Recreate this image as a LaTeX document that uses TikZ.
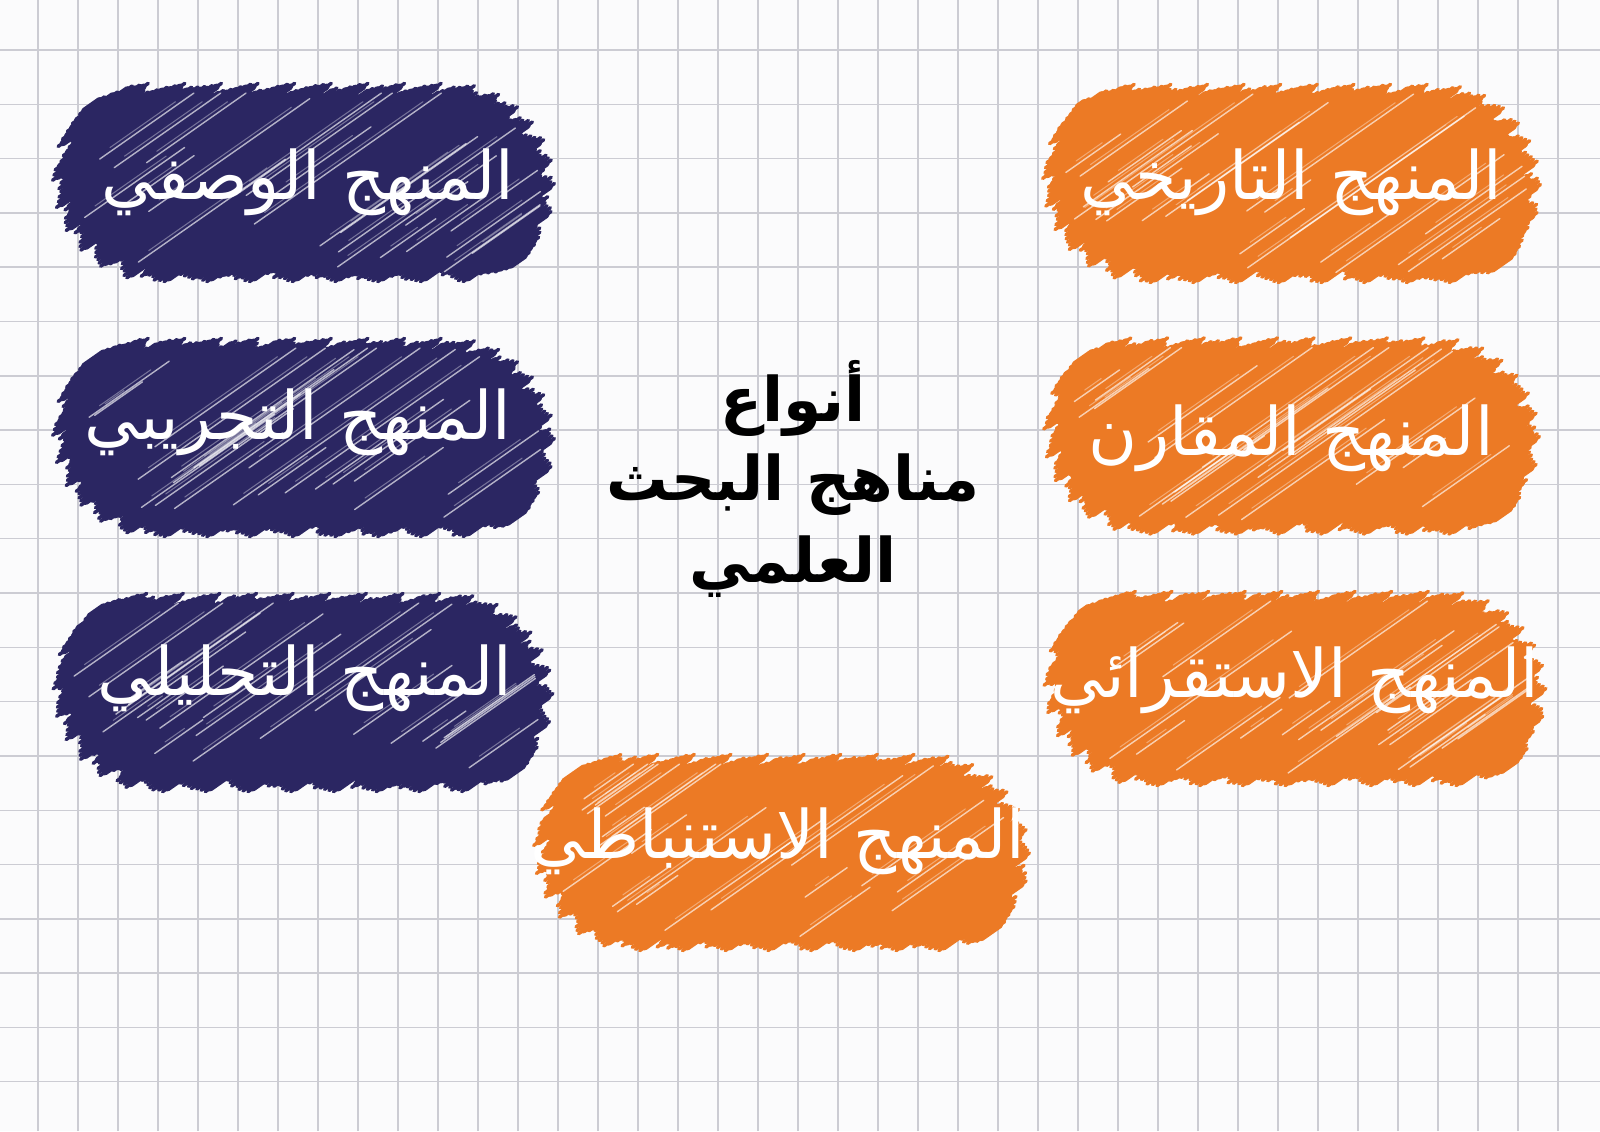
\documentclass[tikz,border=0pt]{standalone}
\usepackage{fontspec}
\newfontfamily\arabicfont[Script=Arabic]{DejaVu Sans}
\TeXXeTstate=1
\definecolor{navy}{RGB}{43,38,98}
\definecolor{orng}{RGB}{236,122,37}
\definecolor{gridc}{RGB}{204,204,211}
\definecolor{paper}{RGB}{251,251,252}
\tikzset{
  gridline/.style={gridc, line width=0.4pt},
  lbl/.style={text=white, font=\arabicfont\fontsize{19}{22}\selectfont, inner sep=0pt, anchor=base},
  ttl/.style={text=black, font=\arabicfont\bfseries\fontsize{17.5}{20}\selectfont, inner sep=0pt, anchor=base},
}
% #1 cx, #2 cy, #3 L (half straight part), #4 r (radius), #5 colour, #6 seed
\newcommand\scribblob[6]{%
\begin{scope}[shift={(#1,#2)}]
  \pgfmathsetseed{#6}
  \pgfmathsetmacro\bR{#4}
  \pgfmathsetmacro\bL{#3}
  \pgfmathsetmacro\bU{\bL*0.5736+\bR}
  \pgfmathsetmacro\bRi{\bR-0.2}
  \fill[#5] (-\bL,-\bRi) -- (\bL,-\bRi) arc (-90:90:\bRi) -- (-\bL,\bRi) arc (90:270:\bRi) -- cycle;
  \pgfmathtruncatemacro\bN{2*\bU/0.035}
  \foreach \k in {0,...,\bN}{
    \pgfmathsetmacro\bu{-\bU+0.03+\k*0.035}
    \pgfmathsetmacro\bja{0.02+0.21*mod(\k,6)/5*(0.35+0.65*rnd)}
    \pgfmathsetmacro\bjb{0.02+0.21*mod(\k+3,7)/6*(0.35+0.65*rnd)}
    \pgfmathsetmacro\bxa{min(max((\bR*0.8192-\bu)/0.5736,-\bL),\bL)}
    \pgfmathsetmacro\bta{\bxa*0.8192+sqrt(max(\bR*\bR-(\bu+\bxa*0.5736)^2,0))-0.03-\bja}
    \pgfmathsetmacro\bxb{min(max((-\bR*0.8192-\bu)/0.5736,-\bL),\bL)}
    \pgfmathsetmacro\btb{\bxb*0.8192-sqrt(max(\bR*\bR-(\bu+\bxb*0.5736)^2,0))+0.03+\bjb}
    \pgfmathsetmacro\bma{\bta-0.06}
    \pgfmathsetmacro\bmb{\btb+0.06}
    \pgfmathparse{\bma>\bmb ? 1 : 0}
    \ifnum\pgfmathresult=1
      \draw[#5, line width=0.065cm, line cap=round]
        ({-\bu*0.5736+\bmb*0.8192},{\bu*0.8192+\bmb*0.5736}) --
        ({-\bu*0.5736+\bma*0.8192},{\bu*0.8192+\bma*0.5736});
      \draw[#5, line width=0.035cm, line cap=round]
        ({-\bu*0.5736+\btb*0.8192},{\bu*0.8192+\btb*0.5736}) --
        ({-\bu*0.5736+\bta*0.8192},{\bu*0.8192+\bta*0.5736});
    \fi
  }
  \foreach \j in {1,...,22}{
    \pgfmathsetmacro\bu{(2*rnd-1)*(\bU-0.3)}
    \pgfmathsetmacro\bxa{min(max((\bR*0.8192-\bu)/0.5736,-\bL),\bL)}
    \pgfmathsetmacro\bta{\bxa*0.8192+sqrt(max(\bR*\bR-(\bu+\bxa*0.5736)^2,0))-0.22}
    \pgfmathsetmacro\bxb{min(max((-\bR*0.8192-\bu)/0.5736,-\bL),\bL)}
    \pgfmathsetmacro\btb{\bxb*0.8192-sqrt(max(\bR*\bR-(\bu+\bxb*0.5736)^2,0))+0.22}
    \pgfmathsetmacro\blen{\bta-\btb}
    \pgfmathsetmacro\bs{\btb+rnd*0.45*\blen}
    \pgfmathsetmacro\be{min(\bs+0.5+rnd*0.9*\blen,\bta)}
    \pgfmathparse{\be>\bs ? 1 : 0}
    \ifnum\pgfmathresult=1
      \draw[white, opacity=0.65, line width=0.4pt, line cap=round]
        ({-\bu*0.5736+\bs*0.8192},{\bu*0.8192+\bs*0.5736}) --
        ({-\bu*0.5736+\be*0.8192},{\bu*0.8192+\be*0.5736});
      \draw[white, opacity=0.35, line width=0.3pt, line cap=round]
        ({-(\bu+0.035)*0.5736+(\bs+0.15)*0.8192},{(\bu+0.035)*0.8192+(\bs+0.15)*0.5736}) --
        ({-(\bu+0.035)*0.5736+(\be-0.2)*0.8192},{(\bu+0.035)*0.8192+(\be-0.2)*0.5736});
    \fi
  }
\end{scope}}
\begin{document}
\begin{tikzpicture}
\useasboundingbox (0,0) rectangle (16,11.31);
\fill[paper] (0,0) rectangle (16,11.31);
\foreach \k in {0,...,38}{\draw[gridline] ({0.38+0.4*\k},0) -- ({0.38+0.4*\k},11.31);}
\foreach \k in {0,...,19}{\draw[gridline] (0,{10.81-0.543*\k}) -- (16,{10.81-0.543*\k});}

% blobs
\scribblob{3.035}{9.485}{1.53}{1.02}{navy}{11}
\scribblob{3.035}{6.935}{1.53}{1.02}{navy}{23}
\scribblob{3.03}{4.385}{1.52}{1.02}{navy}{37}
\scribblob{12.915}{9.475}{1.51}{1.02}{orng}{41}
\scribblob{12.915}{6.95}{1.51}{1.01}{orng}{53}
\scribblob{12.95}{4.425}{1.55}{1.0}{orng}{67}
\scribblob{7.815}{2.785}{1.51}{1.01}{orng}{79}

% labels
\node[lbl] (wasfi) at (3.08,9.31) {\beginR المنهج الوصفي\endR};
\node[lbl] (tajribi) at (2.98,6.91) {\beginR المنهج التجريبي\endR};
\node[lbl] (tahlili) at (3.05,4.36) {\beginR المنهج التحليلي\endR};
\node[lbl] (tarikhi) at (12.91,9.31) {\beginR المنهج التاريخي\endR};
\node[lbl] (muqaran) at (12.91,6.76) {\beginR المنهج المقارن\endR};
\node[lbl] (istiqrai) at (12.95,4.34) {\beginR المنهج الاستقرائي\endR};
\node[lbl] (istinbati) at (7.78,2.73) {\beginR المنهج الاستنباطي\endR};

% title
\node[ttl] (t1) at (7.93,7.09) {\beginR أنواع\endR};
\node[ttl] (t2) at (7.93,6.31) {\beginR مناهج البحث\endR};
\node[ttl] (t3) at (7.93,5.49) {\beginR العلمي\endR};
\end{tikzpicture}
\end{document}
